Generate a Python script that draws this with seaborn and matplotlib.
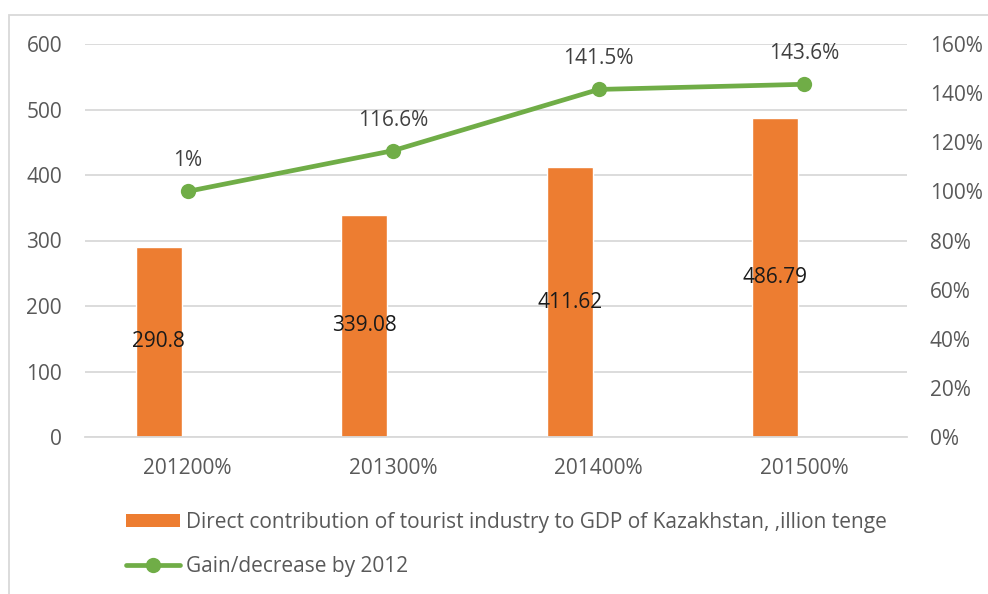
import matplotlib
matplotlib.use("Agg")
import matplotlib.pyplot as plt
import seaborn as sns
import pandas as pd
from matplotlib.patches import Rectangle
from matplotlib.lines import Line2D
from matplotlib.patches import Patch

categories = ["201200%", "201300%", "201400%", "201500%"]
gdp_values = [290.8, 339.08, 411.62, 486.79]
gain_values = [100.0, 116.6, 141.5, 143.6]
gain_labels = ["1%", "116.6%", "141.5%", "143.6%"]
left_ticks = [0, 100, 200, 300, 400, 500, 600]
right_ticks = [0, 20, 40, 60, 80, 100, 120, 140, 160]
bar_name = "Direct contribution of tourist industry to GDP of Kazakhstan, ,illion tenge"
line_name = "Gain/decrease by 2012"

sns.set_style("white")
plt.rcParams['font.family'] = ['Open Sans', 'DejaVu Sans']

ORANGE = "#ED7D31"
GREEN = "#70AD47"
TXT = "#595959"
GRID = "#D9D9D9"
FS = 15
BAR_SHIFT = -0.141  # Excel-style offset of the bar series within each category

df = pd.DataFrame({"cat": categories, "gdp": gdp_values, "gain": gain_values})

fig = plt.figure(figsize=(9.88, 5.94), dpi=100)
ax = fig.add_axes([85/988, 1-437/594, (907-85)/988, (437-44)/594])

sns.barplot(data=df, x="cat", y="gdp", color=ORANGE, width=0.224, ax=ax, saturation=1)
for p in ax.patches:
    p.set_x(p.get_x() + BAR_SHIFT)
ax.set_ylim(0, 600)
ax.set_xlim(-0.5, 3.5)
ax.set_yticks(left_ticks)
ax.set_xlabel("")
ax.set_ylabel("")
for s in ["top", "right", "left"]:
    ax.spines[s].set_visible(False)
ax.spines["bottom"].set_color(GRID)
ax.spines["bottom"].set_linewidth(1.3)
ax.yaxis.grid(True, color=GRID, linewidth=1.3)
ax.set_axisbelow(True)
ax.tick_params(axis="y", length=0, pad=16.5, labelsize=FS, labelcolor=TXT)
ax.tick_params(axis="x", length=0, pad=15, labelsize=FS, labelcolor=TXT)

for i, v in enumerate(gdp_values):
    ax.text(i + BAR_SHIFT, v / 2, f"{v:g}", ha="center", va="center", fontsize=FS, color="#1A1A1A")

ax2 = ax.twinx()
sns.lineplot(x=list(range(len(categories))), y=gain_values, ax=ax2, color=GREEN,
             linewidth=3.4, marker="o", markersize=11, markeredgewidth=0, legend=False)
ax2.set_ylim(0, 160)
ax2.set_xlim(-0.5, 3.5)
ax2.set_yticks(right_ticks)
ax2.set_yticklabels([f"{t}%" for t in right_ticks])
for s in ["top", "right", "left", "bottom"]:
    ax2.spines[s].set_visible(False)
ax2.tick_params(axis="y", length=0, pad=16.5, labelsize=FS, labelcolor=TXT)
for i, (v, lab) in enumerate(zip(gain_values, gain_labels)):
    ax2.annotate(lab, (i, v), xytext=(0, 22), textcoords="offset points",
                 ha="center", va="center", fontsize=FS, color="#404040")

handles = [Patch(facecolor=ORANGE, edgecolor="none"),
           Line2D([0], [0], color=GREEN, linewidth=3.4, marker="o", markersize=11, markeredgewidth=0)]
leg = fig.legend(handles, [bar_name, line_name], loc="upper left",
                 bbox_to_anchor=(126/988, 1-512/594), frameon=False, fontsize=FS,
                 labelcolor=TXT, handlelength=2.6, handleheight=0.6, handletextpad=0.3,
                 labelspacing=1.1, borderpad=0, borderaxespad=0)

fig.patches.append(Rectangle((9/988, -0.1), 1.2, 1 - 15/594 + 0.1, transform=fig.transFigure,
                             fill=False, edgecolor=GRID, linewidth=1.3))

fig.savefig("out.png", dpi=100)
